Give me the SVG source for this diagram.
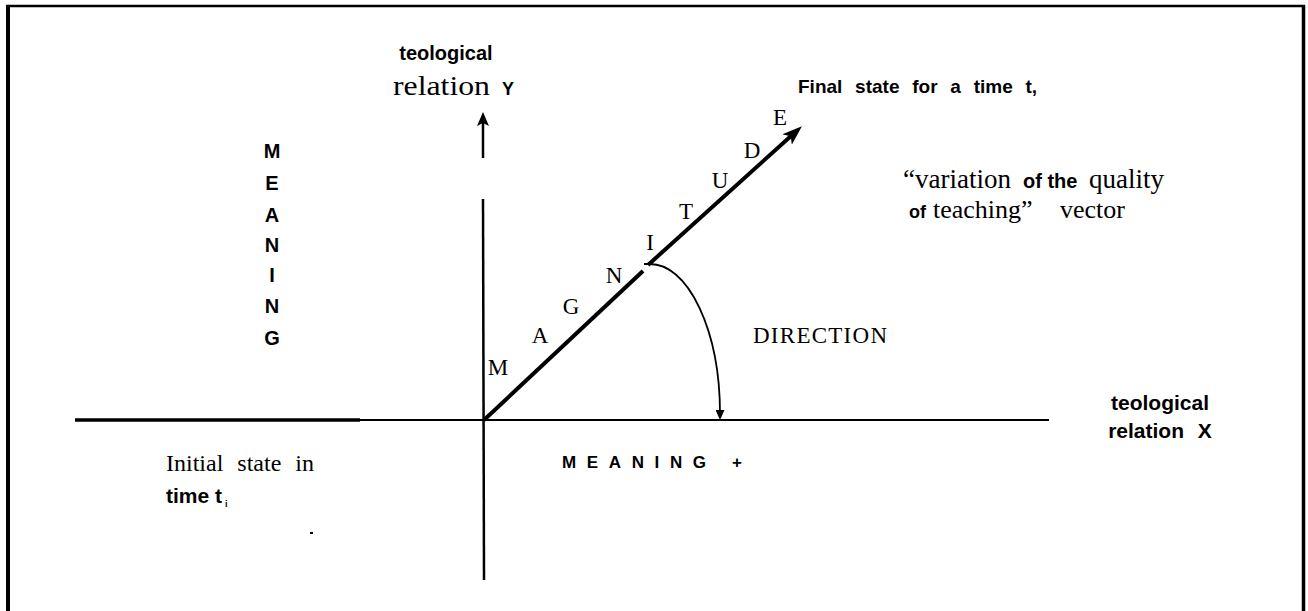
<svg xmlns="http://www.w3.org/2000/svg" width="1308" height="611" viewBox="0 0 1308 611">
<style>
.b{font-family:"Liberation Sans",Arial,sans-serif;font-weight:bold;fill:#000}
.s{font-family:"Liberation Serif","Times New Roman",serif;fill:#000}
.ln{stroke:#000;fill:none}
</style>
<defs>
<marker id="ahBig" viewBox="0 0 20 14" refX="12" refY="7" markerWidth="20" markerHeight="14" markerUnits="userSpaceOnUse" orient="auto"><path d="M0,0 L20,7 L0,14 L5,7 z" fill="#000"/></marker>
<marker id="ahMid" viewBox="0 0 14 12" refX="9" refY="6" markerWidth="14" markerHeight="12" markerUnits="userSpaceOnUse" orient="auto"><path d="M0,0 L14,6 L0,12 L3,6 z" fill="#000"/></marker>
<marker id="ahSmall" viewBox="0 0 10 9" refX="4" refY="4.5" markerWidth="10" markerHeight="9" markerUnits="userSpaceOnUse" orient="auto"><path d="M0,0 L10,4.5 L0,9 z" fill="#000"/></marker>
</defs>
<rect width="1308" height="611" fill="#fff"/>
<g id="frame">
<line class="ln" x1="6" y1="6" x2="1305" y2="6" stroke-width="2.5"/>
<line class="ln" x1="8" y1="5" x2="8" y2="611" stroke-width="4"/>
<line class="ln" x1="1303.5" y1="5" x2="1303.5" y2="611" stroke-width="3.5"/>
</g>
<g id="connectors">
<line class="ln" x1="483" y1="158" x2="483" y2="117" stroke-width="2.5" marker-end="url(#ahMid)"/>
<line class="ln" x1="483" y1="199" x2="484" y2="580" stroke-width="2.5"/>
<line class="ln" x1="75" y1="420" x2="360" y2="420" stroke-width="3.5"/>
<line class="ln" x1="360" y1="420" x2="1049" y2="420" stroke-width="2"/>
<line class="ln" x1="484" y1="420" x2="643" y2="271" stroke-width="4"/>
<line class="ln" x1="648" y1="265" x2="796" y2="131.5" stroke-width="4" marker-end="url(#ahBig)"/>
<path class="ln" d="M644,264 L650,264 A70,150 0 0 1 720,414" stroke-width="1.8" marker-end="url(#ahSmall)"/>
<rect x="310" y="532" width="3" height="2" fill="#000"/>
</g>
<g id="label-y-axis">
<text class="b" x="446" y="60" font-size="20" text-anchor="middle">teological</text>
<text class="s" x="393" y="95" font-size="27" textLength="97" lengthAdjust="spacingAndGlyphs">relation</text>
<text class="b" x="502" y="95" font-size="18">Y</text>
</g>
<g id="label-final">
<text class="b" x="798" y="93" font-size="19" word-spacing="7.5">Final state for a time t,</text>
</g>
<g id="label-meaning-vertical" class="b" font-size="20" text-anchor="middle">
<text x="272" y="158">M</text>
<text x="272" y="190">E</text>
<text x="272" y="222">A</text>
<text x="272" y="252">N</text>
<text x="272" y="282">I</text>
<text x="272" y="313">N</text>
<text x="272" y="345">G</text>
</g>
<g id="label-magnitude" class="s" font-size="23" text-anchor="middle">
<text x="498" y="375">M</text>
<text x="540" y="343">A</text>
<text x="571" y="314">G</text>
<text x="614" y="283">N</text>
<text x="650" y="250">I</text>
<text x="686" y="219">T</text>
<text x="720" y="188">U</text>
<text x="752" y="158">D</text>
<text x="780" y="125">E</text>
</g>
<g id="label-vector">
<text x="903" y="188"><tspan class="s" font-size="27">“variation</tspan><tspan class="b" x="1023" font-size="20">of the</tspan><tspan class="s" x="1089" font-size="27">quality</tspan></text>
<text x="909" y="218"><tspan class="b" font-size="18">of</tspan><tspan class="s" x="933" font-size="26">teaching”</tspan><tspan class="s" x="1060" font-size="26">vector</tspan></text>
</g>
<g id="label-direction">
<text class="s" x="753" y="343" font-size="23" textLength="134" lengthAdjust="spacing">DIRECTION</text>
</g>
<g id="label-x-axis" class="b" font-size="21" text-anchor="middle">
<text x="1160" y="410">teological</text>
<text x="1160" y="438" word-spacing="8">relation X</text>
</g>
<g id="label-meaning-plus">
<text class="b" x="562" y="468" font-size="17" textLength="180" lengthAdjust="spacing">MEANING +</text>
</g>
<g id="label-initial">
<text class="s" x="166" y="471" font-size="24" word-spacing="8">Initial state in</text>
<text class="b" x="166" y="503" font-size="21">time t</text>
<text class="b" x="225" y="507" font-size="9">i</text>
</g>
</svg>
